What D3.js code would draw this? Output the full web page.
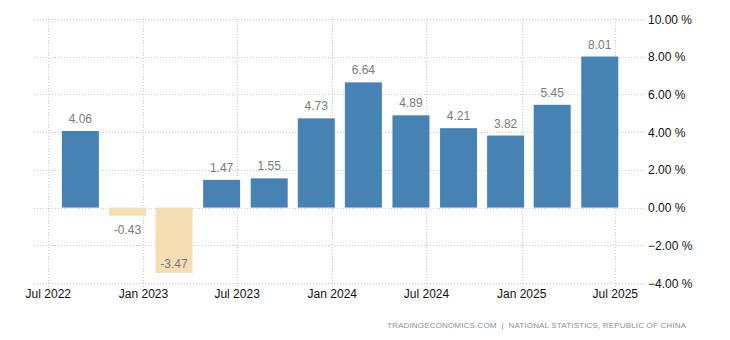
<!DOCTYPE html>
<html>
<head>
<meta charset="utf-8">
<script src="https://cdn.jsdelivr.net/npm/d3@7"></script>
<style>
  html, body { margin: 0; padding: 0; background: #fff; }
  svg { display: block; font-family: "Liberation Sans", Arial, sans-serif; }
</style>
</head>
<body>
<svg id="chart" width="730" height="340"></svg>
<script>
// Quarterly observations (plotted at first day of the quarter's last month)
const dates = ["2022-09-01","2022-12-01","2023-03-01","2023-06-01","2023-09-01","2023-12-01",
               "2024-03-01","2024-06-01","2024-09-01","2024-12-01","2025-03-01","2025-06-01"];
const values = [4.06, -0.43, -3.47, 1.47, 1.55, 4.73, 6.64, 4.89, 4.21, 3.82, 5.45, 8.01];
const xTickDates = ["2022-07-01","2023-01-01","2023-07-01","2024-01-01","2024-07-01","2025-01-01","2025-07-01"];
const xTickLabels = ["Jul 2022","Jan 2023","Jul 2023","Jan 2024","Jul 2024","Jan 2025","Jul 2025"];
const yTicks = [-4, -2, 0, 2, 4, 6, 8, 10];
const sourceText = "TRADINGECONOMICS.COM  |  NATIONAL STATISTICS, REPUBLIC OF CHINA";

const parse = d3.utcParse("%Y-%m-%d");
const data = dates.map((d, i) => ({ date: parse(d), value: values[i] }));

const svg = d3.select("#chart");
const plotLeft = 34, plotRight = 645, plotTop = 19, plotBottom = 283;

const x = d3.scaleUtc()
  .domain([parse("2022-07-01"), parse("2025-07-01")])
  .range([48.3, 615.3]);
const y = d3.scaleLinear().domain([-4, 10]).range([plotBottom, plotTop]);

const barW = 37;
const gridColor = "#cccccc";

// horizontal grid
svg.append("g").selectAll("line").data(yTicks).join("line")
  .attr("x1", plotLeft).attr("x2", plotRight)
  .attr("y1", d => Math.round(y(d)) + 0.5).attr("y2", d => Math.round(y(d)) + 0.5)
  .attr("stroke", gridColor).attr("stroke-width", 1).attr("stroke-dasharray", "1,2");

// vertical grid
svg.append("g").selectAll("line").data(xTickDates).join("line")
  .attr("x1", d => Math.round(x(parse(d))) + 0.5).attr("x2", d => Math.round(x(parse(d))) + 0.5)
  .attr("y1", plotTop).attr("y2", plotBottom + 4)
  .attr("stroke", gridColor).attr("stroke-width", 1).attr("stroke-dasharray", "1,2");

// bars
svg.append("g").selectAll("rect").data(data).join("rect")
  .attr("x", d => x(d.date) - barW / 2)
  .attr("width", barW)
  .attr("y", d => y(Math.max(0, d.value)))
  .attr("height", d => Math.abs(y(d.value) - y(0)))
  .attr("fill", d => d.value >= 0 ? "#4682b4" : "#f5deb3");

// value labels
svg.append("g").selectAll("text").data(data).join("text")
  .attr("x", d => x(d.date))
  .attr("y", d => {
    if (d.value >= 0) return y(d.value) - 8;
    const below = y(d.value) + 18;
    return below > plotBottom ? y(d.value) - 5 : below;
  })
  .attr("text-anchor", "middle")
  .attr("font-size", 12)
  .attr("fill", "#7a7a7a")
  .text(d => d.value.toFixed(2));

// y axis labels
svg.append("g").selectAll("text").data(yTicks).join("text")
  .attr("x", 648)
  .attr("y", d => y(d) + 4.5)
  .attr("font-size", 12)
  .attr("fill", "#111")
  .text(d => d3.format(".2f")(d) + " %");

// x axis labels
svg.append("g").selectAll("text").data(xTickDates).join("text")
  .attr("x", d => x(parse(d)))
  .attr("y", 298)
  .attr("text-anchor", "middle")
  .attr("font-size", 12)
  .attr("fill", "#111")
  .text((d, i) => xTickLabels[i]);

// source
svg.append("text")
  .attr("x", 387).attr("y", 328)
  .attr("font-size", 8)
  .attr("textLength", 299)
  .attr("lengthAdjust", "spacing")
  .attr("fill", "#8a8f9a")
  .attr("xml:space", "preserve")
  .style("white-space", "pre")
  .text(sourceText);
</script>
</body>
</html>
